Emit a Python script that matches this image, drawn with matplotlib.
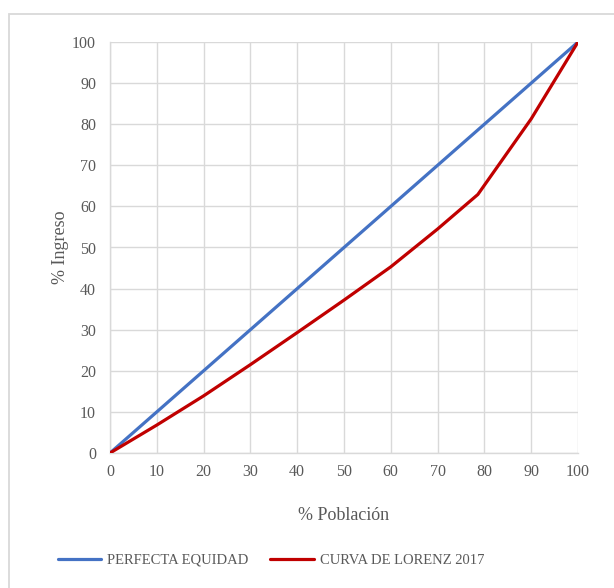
import numpy as np
from matplotlib import pyplot as plt
from matplotlib.patches import Rectangle

## Data
poblacion = [0, 100]
equidad = [0, 100]
lorenz_x = [0, 10, 20, 30, 40, 50, 60, 70, 78.6, 83, 90, 100]
lorenz_y = [0, 6.8, 13.9, 21.5, 29.3, 37.2, 45.3, 54.5, 62.9, 70.0, 81.3, 100]
ticks = list(range(0, 101, 10))

plt.rcParams['font.family'] = ['Liberation Serif', 'DejaVu Serif']
gray_txt = '#595959'
grid_c = '#d9d9d9'

fig = plt.figure(figsize=(6.14, 5.88), dpi=100)
fig.patches.append(Rectangle((9/614, -0.1), 1.2, 1 - 14/588 + 0.1, transform=fig.transFigure,
                             fill=False, edgecolor=grid_c, linewidth=1.3))
ax = fig.add_axes([110/614, 1 - 453/588, 468/614, 411/588])

ax.plot(poblacion, equidad, color='#4472C4', linewidth=2.3, label='PERFECTA EQUIDAD',
        solid_capstyle='round', zorder=3)
ax.plot(lorenz_x, lorenz_y, color='#C00000', linewidth=2.3, label='CURVA DE LORENZ 2017',
        solid_capstyle='round', zorder=4)

ax.set_xlim(0, 100)
ax.set_ylim(0, 100)
ax.set_xticks(ticks)
ax.set_yticks(ticks)
ax.grid(True, color=grid_c, linewidth=1)
ax.set_axisbelow(True)
for s in ax.spines.values():
    s.set_color(grid_c)
    s.set_linewidth(1)
ax.spines['top'].set_visible(False)
ax.spines['right'].set_visible(False)
ax.tick_params(length=0, labelsize=11.5, labelcolor=gray_txt, pad=8)
ax.tick_params(axis='y', pad=10)

ax.set_xlabel('% Población', fontsize=13, color=gray_txt, labelpad=19)
ax.set_ylabel('% Ingreso', fontsize=13, color=gray_txt, labelpad=2)

fig.legend(loc='center', bbox_to_anchor=(271/614, 1 - 560/588), ncol=2, frameon=False,
           fontsize=10.5, labelcolor=gray_txt, handlelength=3.0, handletextpad=0.4,
           columnspacing=1.5)

plt.savefig('out.png', dpi=100)
